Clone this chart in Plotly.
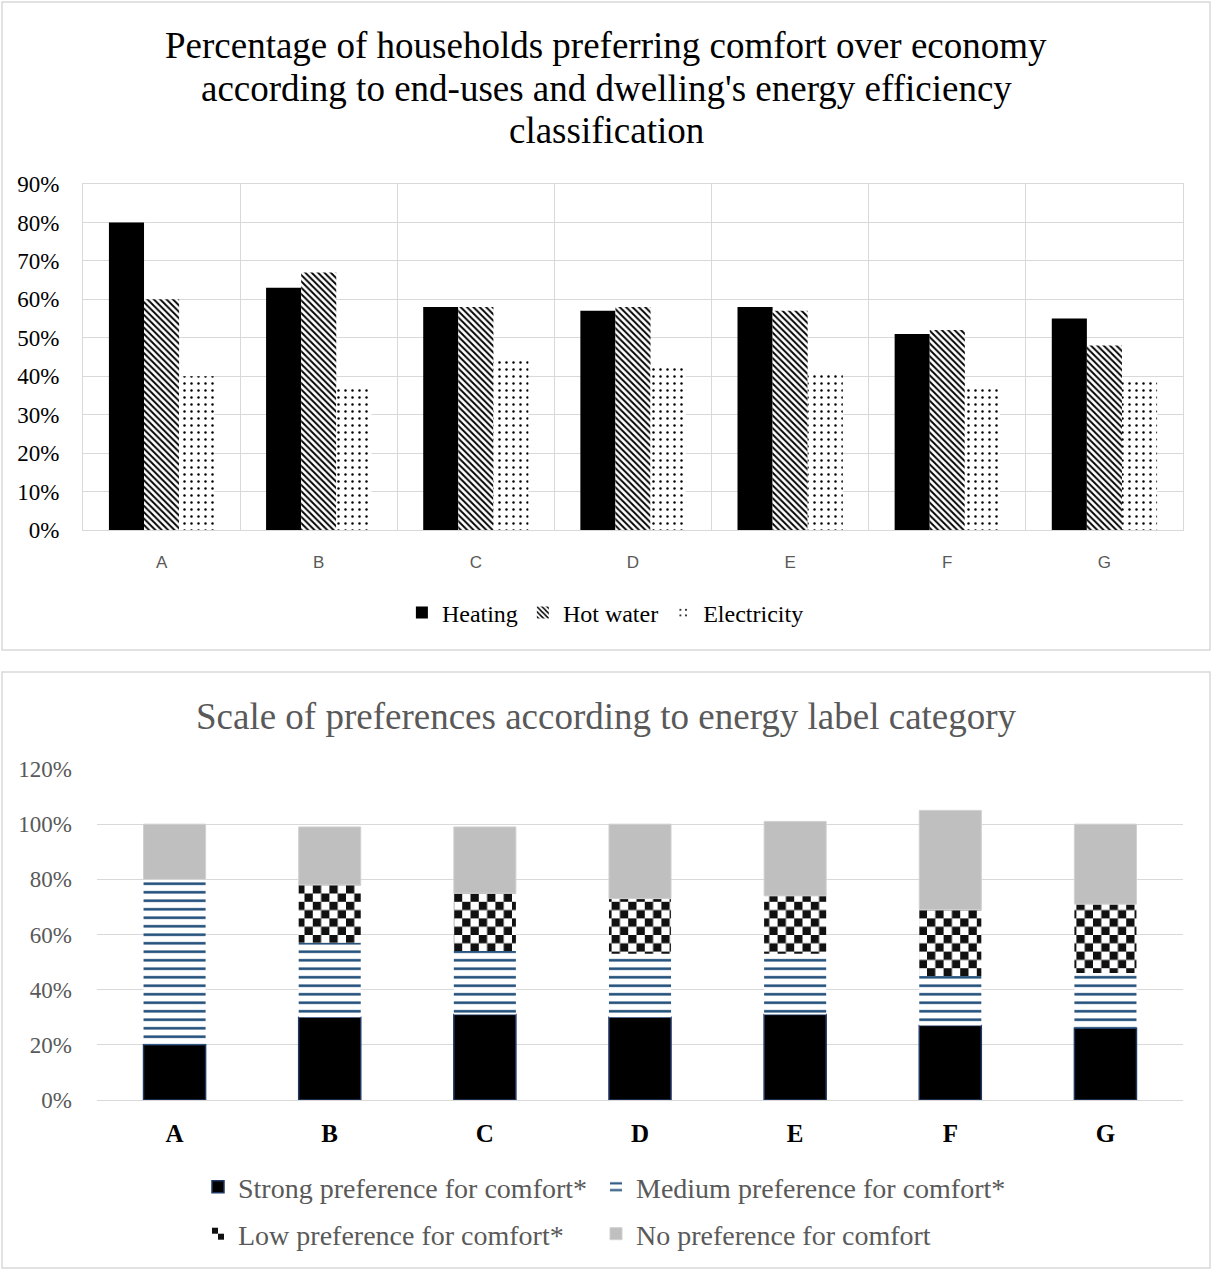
import plotly.graph_objects as go

# ---------------- data ----------------
categories = ["A", "B", "C", "D", "E", "F", "G"]

heating = [80, 63, 58, 57, 58, 51, 55]
hot_water = [60, 67, 58, 58, 57, 52, 48]
electricity = [40, 37, 44, 43, 41, 37, 39]

strong_pref = [20, 30, 31, 30, 31, 27, 26]
medium_pref = [60, 27, 23, 23, 22, 18, 20]
low_pref = [0, 21, 21, 20, 21, 24, 25]
no_pref = [20, 21, 24, 27, 27, 36, 29]

top_ticks = [0, 10, 20, 30, 40, 50, 60, 70, 80, 90]
top_tick_labels = ["0%", "10%", "20%", "30%", "40%", "50%", "60%", "70%", "80%", "90%"]
bottom_ticks = [0, 20, 40, 60, 80, 100, 120]
bottom_tick_labels = ["0%", "20%", "40%", "60%", "80%", "100%", "120%"]

top_title_lines = [
    "Percentage of households preferring comfort over economy",
    "according to end-uses and dwelling's energy efficiency",
    "classification",
]
bottom_title = "Scale of preferences according to energy label category"

# ---------------- geometry helpers ----------------
W, H = 1212, 1270
def px(x):
    return x / W
def py(y):
    return 1 - y / H

SERIF = "Liberation Serif, Times New Roman, serif"
SANS = "Liberation Sans, Arial, sans-serif"
GRID = "#D9D9D9"
GREY_TXT = "#595959"

fig = go.Figure()

# ---------------- top chart (grouped) ----------------
fig.add_trace(go.Bar(
    x=categories, y=heating, name="Heating", xaxis="x", yaxis="y",
    marker=dict(color="black", line=dict(width=0)), legend="legend",
))
fig.add_trace(go.Bar(
    x=categories, y=hot_water, name="Hot water", xaxis="x", yaxis="y",
    marker=dict(color="white", line=dict(width=0),
                pattern=dict(shape="\\", fgcolor="black", bgcolor="white",
                             fgopacity=1, size=4.5, solidity=0.42)),
    legend="legend",
))
fig.add_trace(go.Bar(
    x=categories, y=electricity, name="Electricity", xaxis="x", yaxis="y",
    marker=dict(color="white", line=dict(width=0),
                pattern=dict(shape=".", fgcolor="black", bgcolor="white",
                             fgopacity=1, size=7, solidity=0.1)),
    legend="legend",
))

# ---------------- bottom chart (stacked via base) ----------------
stack_series = [
    ("Strong preference for comfort*", strong_pref, "legend2"),
    ("Medium preference for comfort*", medium_pref, "legend3"),
    ("Low preference for comfort*", low_pref, "legend4"),
    ("No preference for comfort", no_pref, "legend5"),
]
styles = [
    dict(color="black", line=dict(color="#1F3864", width=1.5)),
    dict(color="white", line=dict(width=0),
         pattern=dict(shape="-", fgcolor="#1F4E79", bgcolor="white", fgopacity=1,
                      size=8.5, solidity=0.3)),
    dict(color="white", line=dict(width=0),
         pattern=dict(shape=".", fgcolor="#111111", bgcolor="white", size=8, solidity=0.5)),
    dict(color="#BFBFBF", line=dict(color="#D0D0D0", width=1)),
]
uids = ["strong", "medium", "checker", "nopref"]
bases = [0] * len(categories)
for (name, vals, leg), st, uid in zip(stack_series, styles, uids):
    fig.add_trace(go.Bar(
        x=categories, y=vals, base=list(bases), name=name,
        xaxis="x2", yaxis="y2", offsetgroup="stack", width=0.4, offset=-0.2,
        marker=st, legend=leg, uid=uid,
    ))
    bases = [b + v for b, v in zip(bases, vals)]

# ---------------- annotations (titles) ----------------
annotations = []
for line, yc in zip(top_title_lines, [46, 89, 131]):
    annotations.append(dict(
        text=line, x=0.5, y=py(yc), xref="paper", yref="paper",
        xanchor="center", yanchor="middle", showarrow=False,
        font=dict(family=SERIF, size=37, color="black"),
    ))
annotations.append(dict(
    text=bottom_title, x=0.5, y=py(716), xref="paper", yref="paper",
    xanchor="center", yanchor="middle", showarrow=False,
    font=dict(family=SERIF, size=37, color=GREY_TXT),
))

def small_legend(xpix, ypix, size, color):
    return dict(
        orientation="h", x=px(xpix), xanchor="left", y=py(ypix), yanchor="middle",
        font=dict(family=SERIF, size=size, color=color), bgcolor="rgba(0,0,0,0)",
        traceorder="normal",
    )

# ---------------- layout ----------------
fig.update_layout(
    width=W, height=H, autosize=False,
    margin=dict(l=0, r=0, t=0, b=0, pad=0, autoexpand=False),
    paper_bgcolor="white", plot_bgcolor="white",
    barmode="group", bargap=0.33, bargroupgap=0,
    showlegend=True,
    xaxis=dict(
        domain=[px(83), px(1183)], anchor="y", type="category", automargin=False,
        tickson="boundaries", showgrid=True, gridcolor=GRID, gridwidth=1,
        showline=True, linecolor=GRID, linewidth=1, mirror=True,
        ticks="", tickfont=dict(family=SANS, size=17, color=GREY_TXT),
        ticklabelstandoff=17,
    ),
    yaxis=dict(
        domain=[py(530), py(184)], anchor="x", range=[0, 90], automargin=False,
        tickmode="array", tickvals=top_ticks, ticktext=top_tick_labels,
        showgrid=True, gridcolor=GRID,
        gridwidth=1, zeroline=False, showline=True, linecolor=GRID, mirror=True,
        ticks="", tickfont=dict(family=SERIF, size=23, color="black"),
        ticklabelstandoff=18,
    ),
    xaxis2=dict(
        domain=[px(97), px(1183)], anchor="y2", type="category", automargin=False,
        showgrid=False, showline=True, linecolor=GRID, linewidth=1,
        ticks="", tickfont=dict(family=SERIF, size=25, color="black", weight="bold"),
        ticklabelstandoff=11,
    ),
    yaxis2=dict(
        domain=[py(1100), py(769)], anchor="x2", range=[0, 120], automargin=False,
        tickmode="array", tickvals=bottom_ticks, ticktext=bottom_tick_labels,
        showgrid=True, gridcolor=GRID,
        gridwidth=1, zeroline=False, showline=False,
        ticks="", tickfont=dict(family=SERIF, size=23, color=GREY_TXT),
        ticklabelstandoff=24,
    ),
    legend=dict(
        orientation="h", x=0.4995, xanchor="center", y=py(613), yanchor="middle",
        font=dict(family=SERIF, size=24, color="black"), bgcolor="rgba(0,0,0,0)",
        traceorder="normal",
    ),
    legend2=small_legend(198, 1187, 28, GREY_TXT),
    legend3=small_legend(596, 1187, 28, GREY_TXT),
    legend4=small_legend(198, 1234, 28, GREY_TXT),
    legend5=small_legend(596, 1234, 28, GREY_TXT),
    annotations=annotations,
    shapes=[
        dict(type="rect", xref="paper", yref="paper", x0=px(2), x1=px(1210),
             y0=py(650), y1=py(2), line=dict(color=GRID, width=1.5)),
        dict(type="rect", xref="paper", yref="paper", x0=px(2), x1=px(1210),
             y0=py(1268), y1=py(672), line=dict(color=GRID, width=1.5)),
    ],
)

post_js = """
(function(){
  document.documentElement.style.margin = '0';
  document.documentElement.style.padding = '0';
  document.documentElement.style.overflow = 'hidden';
  document.body.style.margin = '0';
  document.body.style.padding = '0';
  document.body.style.overflow = 'hidden';
  var gd = document.getElementById('{plot_id}');
  var NS = 'http://www.w3.org/2000/svg';
  function checker(){
    document.querySelectorAll('pattern').forEach(function(p){
      var id = p.getAttribute('id') || '';
      if(id.indexOf('checker') < 0) return;
      var c = 8.3;
      while(p.firstChild) p.removeChild(p.firstChild);
      p.setAttribute('width', 2*c); p.setAttribute('height', 2*c);
      function mk(x, y, w, h, f){
        var r = document.createElementNS(NS, 'rect');
        r.setAttribute('x', x); r.setAttribute('y', y);
        r.setAttribute('width', w); r.setAttribute('height', h);
        r.setAttribute('fill', f); p.appendChild(r);
      }
      mk(0, 0, 2*c, 2*c, '#ffffff');
      mk(0, 0, c, c, '#111111');
      mk(c, c, c, c, '#111111');
    });
  }
  checker();
  if(gd && gd.on){ gd.on('plotly_afterplot', checker); }
})();
"""

fig.write_html("out.html", post_script=post_js,
               config={"displayModeBar": False, "responsive": False})
